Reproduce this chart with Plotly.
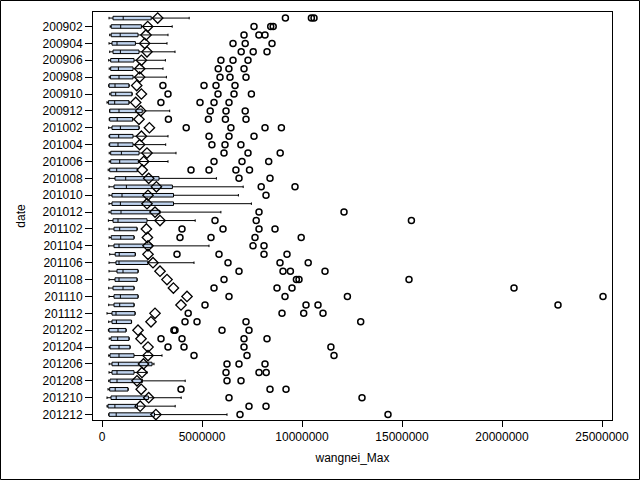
import plotly.graph_objects as go

months = ['200901', '200902', '200903', '200904', '200905', '200906', '200907', '200908',
          '200909', '200910', '200911', '200912', '201001', '201002', '201003', '201004',
          '201005', '201006', '201007', '201008', '201009', '201010', '201011', '201012',
          '201101', '201102', '201103', '201104', '201105', '201106', '201107', '201108',
          '201109', '201110', '201111', '201112', '201201', '201202', '201203', '201204',
          '201205', '201206', '201207', '201208', '201209', '201210', '201211', '201212']

lower = [350000, 410000, 385000, 350000, 385000, 335000, 360000, 360000, 335000, 385000, 250000, 385000,
         360000, 335000, 350000, 350000, 360000, 360000, 310000, 350000, 350000, 350000, 350000, 350000,
         320000, 350000, 360000, 335000, 385000, 350000, 350000, 350000, 335000, 350000, 335000, 250000,
         335000, 320000, 360000, 360000, 335000, 360000, 350000, 335000, 300000, 250000, 250000, 335000]

q1 = [550000, 460000, 460000, 500000, 550000, 435000, 435000, 420000, 350000, 450000, 320000, 385000,
      385000, 500000, 385000, 385000, 435000, 435000, 385000, 650000, 600000, 500000, 500000, 450000,
      550000, 600000, 460000, 600000, 660000, 700000, 750000, 650000, 550000, 600000, 600000, 500000,
      500000, 350000, 450000, 400000, 400000, 500000, 500000, 400000, 385000, 450000, 300000, 350000]

median = [1060000, 935000, 910000, 750000, 920000, 835000, 820000, 850000, 650000, 685000, 635000, 850000,
          760000, 920000, 835000, 800000, 970000, 885000, 735000, 1185000, 1220000, 1000000, 920000, 950000,
          800000, 885000, 935000, 850000, 860000, 850000, 1050000, 850000, 1050000, 920000, 885000, 700000,
          720000, 800000, 785000, 850000, 850000, 820000, 750000, 750000, 660000, 710000, 645000, 710000]

q3 = [2460000, 1970000, 1800000, 1670000, 1850000, 1600000, 1550000, 1550000, 1350000, 1500000, 1350000, 2010000,
      1535000, 1850000, 1550000, 1550000, 1850000, 1820000, 1770000, 2850000, 3520000, 3575000, 3575000, 2900000,
      2250000, 1750000, 1600000, 2500000, 1660000, 2300000, 1800000, 1750000, 1600000, 1800000, 1600000, 1650000,
      1470000, 1200000, 1350000, 1400000, 1600000, 2500000, 1600000, 2020000, 1300000, 2320000, 1770000, 2625000]

upper = [4360000, 3510000, 3300000, 3250000, 3650000, 3170000, 3050000, 3220000, 1360000, 1510000, 1360000, 3385000,
         1545000, 1860000, 3300000, 3185000, 3700000, 3300000, 1780000, 5720000, 7060000, 6820000, 7470000, 5945000,
         4660000, 1760000, 1610000, 5350000, 1670000, 4600000, 1810000, 1760000, 1610000, 1810000, 1610000, 1660000,
         1480000, 1210000, 1360000, 1410000, 3000000, 2600000, 2250000, 4160000, 1310000, 3960000, 3660000, 6250000]

mean = [2785000, 2285000, 2200000, 2135000, 2250000, 1970000, 1885000, 1885000, 1735000, 1970000, 1685000, 1935000,
        1850000, 2370000, 1970000, 1885000, 2250000, 2085000, 2010000, 2335000, 2720000, 2300000, 2250000, 2650000,
        2900000, 2220000, 2270000, 2300000, 2300000, 2550000, 2900000, 3250000, 3570000, 4250000, 3950000, 2650000,
        2450000, 1800000, 1950000, 2300000, 2300000, 2075000, 2000000, 1750000, 1960000, 2335000, 1910000, 2695000]

outliers = [
    [9170000, 10470000, 10600000],
    [7600000, 8435000, 8560000],
    [7100000, 7845000, 8150000],
    [6550000, 7160000, 8500000],
    [6960000, 7560000, 8250000],
    [5945000, 6550000, 7300000],
    [5810000, 6345000, 7100000],
    [5900000, 6400000, 7200000],
    [3045000, 5100000, 5700000, 6650000],
    [3300000, 5800000, 6600000, 7470000],
    [2945000, 4900000, 5600000, 6350000],
    [5410000, 6200000, 7160000],
    [3320000, 5320000, 6170000, 7200000],
    [4210000, 6445000, 8150000, 8970000],
    [5350000, 6350000, 7600000],
    [5495000, 6150000, 6945000],
    [6100000, 7300000, 8910000],
    [5600000, 7000000, 8335000],
    [4450000, 5350000, 6695000, 7375000],
    [6850000, 8400000],
    [7960000, 9650000],
    [8200000],
    [],
    [7850000, 12100000],
    [5650000, 7710000, 15470000],
    [4000000, 6050000, 7850000, 8650000],
    [3900000, 5450000, 7650000, 9960000],
    [7550000, 8100000],
    [3750000, 5850000, 8100000, 9250000],
    [6300000, 8900000, 10310000],
    [6850000, 9050000, 9420000, 11150000],
    [6100000, 9720000, 9850000, 15350000],
    [5600000, 8750000, 9500000, 20600000],
    [6350000, 9150000, 12270000, 25050000],
    [5150000, 10200000, 10800000, 22800000],
    [4310000, 9000000, 10085000, 11050000],
    [4150000, 4750000, 7200000, 12935000],
    [3595000, 3650000, 6000000, 7350000],
    [2950000, 4000000, 7100000, 8250000],
    [3300000, 4100000, 7100000, 11445000],
    [4600000, 7250000, 11600000],
    [6250000, 6850000, 8150000],
    [6200000, 7850000, 8210000],
    [6250000, 6950000],
    [3950000, 8400000, 9200000],
    [6350000, 13000000],
    [7350000, 8200000],
    [6900000, 14300000],
]

x_ticks = [0, 5000000, 10000000, 15000000, 20000000, 25000000]
y_ticks = months[1::2]

out_x, out_y = [], []
for m, vals in zip(months, outliers):
    for v in vals:
        out_x.append(v)
        out_y.append(m)

fig = go.Figure()
fig.add_trace(go.Box(
    y=months, q1=q1, median=median, q3=q3,
    lowerfence=lower, upperfence=upper,
    orientation='h', boxpoints=False,
    fillcolor='#BFD3EE', line=dict(color='#000000', width=1),
    whiskerwidth=0.7, showlegend=False, hoverinfo='skip'
))
fig.add_trace(go.Scatter(
    x=out_x, y=out_y, mode='markers',
    marker=dict(symbol='circle-open', size=6, color='#000000', line=dict(width=1.5, color='#000000')),
    showlegend=False, hoverinfo='skip'
))
fig.add_trace(go.Scatter(
    x=mean, y=months, mode='markers',
    marker=dict(symbol='diamond-open', size=8, color='#000000', line=dict(width=1.3, color='#000000')),
    showlegend=False, hoverinfo='skip'
))

L, R, T, B = 93, 28, 12, 60
W, H = 640, 480
pw, ph = W - L - R, H - T - B

fig.update_layout(
    width=W, height=H,
    margin=dict(l=L, r=R, t=T, b=B, pad=0),
    paper_bgcolor='white', plot_bgcolor='white',
    font=dict(family='Liberation Sans, Arial, sans-serif', size=12, color='#000000'),
    boxgap=0.4,
    xaxis=dict(
        range=[-450000, 25500000], tickvals=x_ticks, ticktext=[str(v) for v in x_ticks],
        showgrid=False, zeroline=False, showline=True, linecolor='#000000', linewidth=1,
        mirror=True, ticks='outside', ticklen=6, tickcolor='#000000',
        title=dict(text='wangnei_Max', standoff=10, font=dict(size=12)),
    ),
    yaxis=dict(
        type='category', categoryorder='array', categoryarray=months,
        range=[47.64, -0.72], tickvals=y_ticks, ticktext=y_ticks,
        showgrid=False, zeroline=False, showline=True, linecolor='#000000', linewidth=1,
        mirror=True, ticks='outside', ticklen=7, tickcolor='#000000',
        title=dict(text='date', standoff=14, font=dict(size=12)),
    ),
    shapes=[dict(
        type='rect', xref='paper', yref='paper',
        x0=(0.5 - L) / pw, x1=(W - 0.5 - L) / pw,
        y0=-(B - 0.5) / ph, y1=1 + (T - 0.5) / ph,
        line=dict(color='#000000', width=1), fillcolor='rgba(0,0,0,0)', layer='above'
    )],
)

fig.write_html('out.html')
